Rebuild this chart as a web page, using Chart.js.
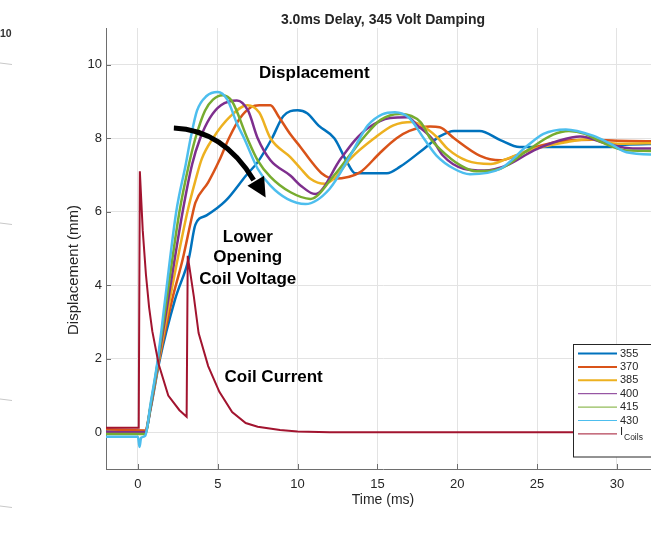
<!DOCTYPE html>
<html>
<head>
<meta charset="utf-8">
<script src="https://cdn.jsdelivr.net/npm/chart.js@4.4.1/dist/chart.umd.min.js"></script>
<style>
  html, body { margin: 0; padding: 0; background: #fff; overflow: hidden; }
  #wrap { width: 664px; height: 540px; }
</style>
</head>
<body>
<div id="wrap"><canvas id="graphChart" width="664" height="540"></canvas></div>
<script>
// time (ms) and value pairs, one pair per trace
const t355 = [-2, 0.45, 0.8, 1.35, 2.33, 3.2, 3.6, 4.3, 5.5, 6.8, 7.5, 8.4, 9.1, 10.0, 10.6, 11.3, 12.3, 13.1, 13.6, 15.6, 16.4, 17.9, 18.9, 19.8, 21.4, 22.7, 23.9, 29.4, 30.5, 32.7];
const d355 = [0.02, 0.0, 0.65, 1.94, 3.62, 4.75, 5.65, 5.9, 6.3, 7.0, 7.35, 8.0, 8.6, 8.76, 8.68, 8.35, 8.0, 7.35, 7.05, 7.05, 7.22, 7.71, 8.05, 8.2, 8.2, 7.95, 7.76, 7.76, 7.82, 7.85];

const t370 = [-2, 0.45, 0.8, 1.32, 2.15, 2.8, 3.4, 3.6, 4.4, 5.1, 5.7, 6.4, 7.1, 7.6, 8.3, 8.8, 9.56, 10.2, 10.8, 11.5, 12.3, 13.9, 15.2, 16.2, 17.0, 18.3, 18.9, 19.8, 21.4, 22.7, 23.9, 25.2, 26.9, 28.5, 30.0, 32.7];
const d370 = [0.08, 0.05, 0.7, 1.94, 3.62, 4.7, 5.9, 6.25, 6.8, 7.4, 8.0, 8.55, 8.85, 8.9, 8.9, 8.6, 8.1, 7.75, 7.4, 7.05, 6.9, 7.07, 7.62, 8.0, 8.2, 8.32, 8.3, 8.0, 7.53, 7.4, 7.57, 7.8, 7.94, 7.96, 7.93, 7.92];

const t385 = [-2, 0.45, 0.8, 1.3, 2.0, 3.1, 3.6, 4.0, 4.7, 5.8, 6.85, 7.6, 8.3, 9.56, 10.2, 10.8, 11.7, 12.4, 13.3, 14.8, 16.0, 17.2, 18.1, 18.8, 19.4, 20.6, 22.1, 23.1, 24.8, 26.9, 28.3, 30.0, 32.7];
const d385 = [0.0, 0.0, 0.7, 1.94, 3.62, 6.0, 6.85, 7.44, 8.0, 8.6, 8.9, 8.7, 8.0, 7.48, 7.17, 6.9, 6.76, 6.95, 7.44, 8.0, 8.35, 8.44, 8.26, 8.0, 7.71, 7.39, 7.3, 7.44, 7.71, 7.9, 7.97, 7.85, 7.87];

const t400 = [-2, 0.45, 0.8, 1.27, 1.9, 2.8, 3.4, 3.9, 4.5, 5.2, 6.2, 6.9, 7.5, 8.3, 9.56, 10.2, 11.1, 12.7, 13.6, 14.35, 15.8, 16.9, 17.5, 18.4, 19.1, 20.4, 21.7, 23.1, 24.8, 26.4, 27.7, 29.4, 31.0, 32.7];
const d400 = [0.0, 0.0, 0.7, 1.94, 3.62, 6.0, 7.3, 8.0, 8.55, 8.9, 9.03, 8.75, 8.0, 7.4, 6.98, 6.71, 6.48, 7.44, 7.95, 8.26, 8.55, 8.57, 8.35, 8.0, 7.53, 7.17, 7.12, 7.26, 7.67, 7.94, 8.05, 7.85, 7.72, 7.72];

const t415 = [-2, 0.45, 0.8, 1.25, 1.8, 2.6, 3.2, 3.6, 4.2, 4.7, 5.3, 5.9, 6.85, 7.5, 8.3, 9.56, 10.8, 12.3, 13.2, 14.1, 15.2, 16.4, 17.7, 18.3, 18.9, 20.2, 21.2, 22.7, 24.4, 26.0, 27.0, 28.0, 29.0, 30.6, 32.7];
const d415 = [-0.05, -0.05, 0.75, 1.94, 3.62, 6.0, 7.3, 8.0, 8.75, 9.05, 9.17, 9.0, 8.0, 7.4, 6.95, 6.53, 6.35, 7.0, 7.5, 8.0, 8.5, 8.66, 8.44, 8.0, 7.71, 7.26, 7.1, 7.17, 7.67, 8.1, 8.2, 8.12, 7.9, 7.67, 7.65];

const t430 = [-2, 0.0, 0.1, 0.2, 0.45, 0.8, 1.23, 1.7, 2.4, 3.0, 3.3, 3.7, 4.3, 5.0, 5.6, 6.2, 6.65, 7.5, 8.3, 9.35, 10.5, 12.0, 13.3, 13.9, 14.4, 15.3, 16.1, 17.0, 17.9, 18.7, 19.8, 20.8, 22.7, 24.4, 25.4, 26.8, 28.5, 29.6, 30.6, 32.7];
const d430 = [-0.12, -0.12, -0.4, -0.15, -0.1, 0.8, 1.94, 3.6, 6.0, 7.3, 8.0, 8.75, 9.15, 9.26, 9.05, 8.4, 8.0, 7.17, 6.71, 6.35, 6.21, 6.62, 7.53, 8.0, 8.35, 8.65, 8.71, 8.55, 8.0, 7.53, 7.17, 7.02, 7.17, 7.8, 8.12, 8.24, 8.07, 7.85, 7.62, 7.55];

const tCoil = [-2, 0.05, 0.12, 0.3, 0.5, 0.7, 0.9, 1.3, 1.9, 2.6, 3.05, 3.12, 3.5, 3.8, 4.4, 5.1, 5.9, 6.75, 7.5, 8.9, 10.0, 12.0, 32.7];
const iCoil = [0.12, 0.12, 7.1, 5.5, 4.3, 3.4, 2.75, 1.85, 1.0, 0.6, 0.42, 4.8, 3.7, 2.7, 1.8, 1.1, 0.55, 0.25, 0.15, 0.06, 0.02, 0.0, 0.0];

const seriesLabels = ['355', '370', '385', '400', '415', '430', 'I_Coils'];
const seriesColors = ['#0072BD', '#D95319', '#EDB120', '#7E2F8E', '#77AC30', '#4DBEEE', '#A2142F'];
const xTicks = [0, 5, 10, 15, 20, 25, 30];
const yTicks = [0, 2, 4, 6, 8, 10];

const notes = [
  { text: 'Displacement', x: 11.05, y: 9.78 },
  { text: 'Lower', x: 6.88, y: 5.31 },
  { text: 'Opening', x: 6.88, y: 4.76 },
  { text: 'Coil Voltage', x: 6.88, y: 4.17 },
  { text: 'Coil Current', x: 8.5, y: 1.5 }
];
const arrowShaft = [[2.25, 8.28], [5.38, 8.22], [7.25, 6.86]];
const arrowHead = [[6.86, 6.71], [8.0, 6.39], [7.9, 6.98]];

const FONT = '"Liberation Sans", Arial, Helvetica, sans-serif';
const INK = '#262626';

const traces = [[t355, d355], [t370, d370], [t385, d385], [t400, d400], [t415, d415], [t430, d430], [tCoil, iCoil]];
const pts = (ts, vs) => ts.map((t, i) => ({ x: t, y: vs[i] }));

const overlay = {
  id: 'overlay',
  beforeDatasetsDraw: chart => {
    const { ctx, chartArea: a, scales: { x, y } } = chart;
    ctx.save();
    ctx.strokeStyle = '#6e6e6e';
    ctx.lineWidth = 1;
    ctx.beginPath();
    xTicks.forEach(v => {
      const px = Math.round(x.getPixelForValue(v)) + 0.5;
      ctx.moveTo(px, a.bottom); ctx.lineTo(px, a.bottom - 5);
    });
    yTicks.forEach(v => {
      const py = Math.round(y.getPixelForValue(v)) + 0.5;
      ctx.moveTo(a.left, py); ctx.lineTo(a.left + 5, py);
    });
    ctx.stroke();
    ctx.restore();
  },
  afterDatasetsDraw: chart => {
    const { ctx, chartArea: a, scales: { x, y } } = chart;
    const px = v => x.getPixelForValue(v);
    const py = v => y.getPixelForValue(v);
    ctx.save();

    // curved arrow
    ctx.strokeStyle = '#000';
    ctx.lineWidth = 5;
    ctx.beginPath();
    ctx.moveTo(px(arrowShaft[0][0]), py(arrowShaft[0][1]));
    ctx.quadraticCurveTo(px(arrowShaft[1][0]), py(arrowShaft[1][1]), px(arrowShaft[2][0]), py(arrowShaft[2][1]));
    ctx.stroke();
    ctx.fillStyle = '#000';
    ctx.beginPath();
    arrowHead.forEach(([hx, hy], i) => i ? ctx.lineTo(px(hx), py(hy)) : ctx.moveTo(px(hx), py(hy)));
    ctx.closePath();
    ctx.fill();

    // text notes
    ctx.font = 'bold 17px ' + FONT;
    ctx.textAlign = 'center';
    ctx.textBaseline = 'middle';
    notes.forEach(n => ctx.fillText(n.text, px(n.x), py(n.y)));

    // title
    ctx.fillStyle = INK;
    ctx.font = 'bold 14px ' + FONT;
    ctx.fillText('3.0ms Delay, 345 Volt Damping', (a.left + a.right) / 2, 20);

    // y axis title
    ctx.save();
    ctx.translate(74, 270);
    ctx.rotate(-Math.PI / 2);
    ctx.font = '15px ' + FONT;
    ctx.fillText('Displacement (mm)', 0, 0);
    ctx.restore();

    // legend
    const lx = 573, ly = 344;
    ctx.fillStyle = '#fff';
    ctx.fillRect(lx, ly, 100, 113);
    ctx.strokeStyle = INK;
    ctx.lineWidth = 1;
    ctx.strokeRect(lx + 0.5, ly + 0.5, 100, 112.5);
    ctx.textAlign = 'left';
    seriesLabels.forEach((lab, i) => {
      const ry = 353.5 + i * 13.4;
      ctx.strokeStyle = seriesColors[i];
      ctx.lineWidth = i < 3 ? 2 : 1;
      ctx.beginPath();
      ctx.moveTo(578, ry); ctx.lineTo(617, ry);
      ctx.stroke();
      ctx.fillStyle = INK;
      const [main, sub] = lab.split('_');
      ctx.font = '11px ' + FONT;
      ctx.fillText(main, 620, ry - (sub ? 2 : 0));
      if (sub) {
        ctx.font = '8.5px ' + FONT;
        ctx.fillText(sub, 624, ry + 4);
      }
    });

    // edge of the neighbouring panel
    ctx.fillStyle = '#333';
    ctx.font = 'bold 10.5px ' + FONT;
    ctx.fillText('10', 0, 34);
    ctx.strokeStyle = '#c8c8c8';
    ctx.lineWidth = 1;
    ctx.beginPath();
    [64, 224, 400, 507].forEach(yy => { ctx.moveTo(0, yy - 1); ctx.lineTo(12, yy + 0.5); });
    ctx.stroke();

    ctx.restore();
  }
};

const ctx = document.getElementById('graphChart').getContext('2d');
const graphChart = new Chart(ctx, {
  type: 'line',
  data: {
    datasets: traces.map(([ts, vs], i) => ({
      label: seriesLabels[i],
      data: pts(ts, vs),
      borderColor: seriesColors[i],
      backgroundColor: seriesColors[i],
      borderWidth: i === 6 ? 2 : 2.5,
      pointRadius: 0,
      fill: false,
      tension: i === 6 ? 0 : 0.4,
      cubicInterpolationMode: i === 6 ? 'default' : 'monotone',
      order: traces.length - i
    }))
  },
  options: {
    animation: false,
    responsive: false,
    layout: { padding: { left: 0, right: 4, top: 28, bottom: 0 } },
    plugins: {
      legend: { display: false },
      tooltip: { enabled: false }
    },
    scales: {
      x: {
        type: 'linear',
        min: -2,
        max: 32.7,
        afterBuildTicks: s => { s.ticks = xTicks.map(v => ({ value: v })); },
        afterFit: s => { s.height = 71; },
        grid: { color: '#e3e3e3', drawTicks: false },
        border: { display: true, color: '#6e6e6e', width: 1 },
        ticks: { font: { family: FONT, size: 13 }, color: INK, padding: 8, maxRotation: 0 },
        title: {
          display: true,
          text: 'Time (ms)',
          font: { family: FONT, size: 14 },
          color: INK,
          padding: { top: 0, bottom: 31 }
        }
      },
      y: {
        type: 'linear',
        min: -1,
        max: 11,
        afterBuildTicks: s => { s.ticks = yTicks.map(v => ({ value: v })); },
        afterFit: s => { s.width = 106; },
        grid: { color: '#e3e3e3', drawTicks: false },
        border: { display: true, color: '#6e6e6e', width: 1 },
        ticks: { font: { family: FONT, size: 13 }, color: INK, padding: 4 }
      }
    }
  },
  plugins: [overlay]
});
</script>
</body>
</html>
